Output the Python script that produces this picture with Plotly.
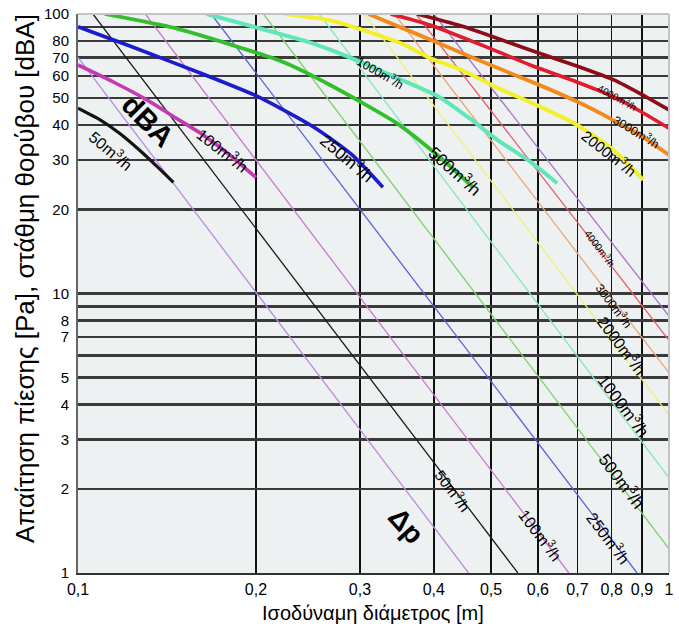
import math
import plotly.graph_objects as go

# ---------------- data ----------------
# Pressure-drop lines (straight in log-log): start / end points
dp_flows = ["25", "50", "100", "250", "500", "1000", "2000", "3000", "4000", "5000"]
dp_x_start = [0.100, 0.106, 0.130, 0.168, 0.206, 0.256, 0.305, 0.343, 0.373, 0.400]
dp_y_start = [70, 100, 100, 100, 100, 100, 100, 100, 100, 100]
dp_x_end = [0.458, 0.555, 0.677, 0.883, 1.0, 1.0, 1.0, 1.0, 1.0, 1.0]
dp_y_end = [1, 1, 1, 1, 1.22, 2.19, 3.67, 5.2, 6.8, 8.3]

# Noise level curves (dBA)
dba_50_x = [0.100, 0.109, 0.118, 0.127, 0.136, 0.145]
dba_50_y = [46, 41.8, 37.2, 32.6, 28.5, 25]
dba_100_x = [0.100, 0.115, 0.131, 0.145, 0.161, 0.180, 0.200]
dba_100_y = [65.7, 57, 49.2, 43, 37.5, 31.5, 26]
dba_250_x = [0.100, 0.124, 0.161, 0.200, 0.250, 0.290, 0.328]
dba_250_y = [90, 76, 61.5, 51, 39.5, 31.5, 24]
dba_500_x = [0.111, 0.146, 0.189, 0.220, 0.267, 0.346, 0.409, 0.466]
dba_500_y = [100, 89, 75.6, 68, 55.7, 40.7, 30.8, 24]
dba_1000_x = [0.165, 0.245, 0.267, 0.300, 0.350, 0.409, 0.460, 0.513, 0.580, 0.647]
dba_1000_y = [100, 79.5, 74.5, 67.5, 58.5, 50.4, 42.3, 35.4, 29.8, 24.8]
dba_2000_x = [0.224, 0.267, 0.312, 0.355, 0.394, 0.450, 0.513, 0.600, 0.699, 0.800, 0.904]
dba_2000_y = [100, 95, 86, 78, 69.5, 62.5, 54.4, 47, 40.1, 33, 25.5]
dba_3000_x = [0.310, 0.3835, 0.450, 0.500, 0.600, 0.700, 0.800, 0.900, 1.000]
dba_3000_y = [100, 83, 72, 65.5, 56, 48.5, 42, 36.5, 31.3]
dba_4000_x = [0.338, 0.394, 0.500, 0.582, 0.700, 0.808, 0.900, 1.000]
dba_4000_y = [100, 91.3, 75, 65.7, 57, 50.4, 44.5, 39]
dba_5000_x = [0.375, 0.450, 0.582, 0.700, 0.808, 0.900, 1.000]
dba_5000_y = [100, 90, 74.3, 65, 58, 51.5, 45.4]

x_tick_vals = [0.1, 0.2, 0.3, 0.4, 0.5, 0.6, 0.7, 0.8, 0.9, 1.0]
x_tick_text = ["0,1", "0,2", "0,3", "0,4", "0,5", "0,6", "0,7", "0,8", "0,9", "1"]
y_tick_vals = [1, 2, 3, 4, 5, 6, 7, 8, 9, 10, 20, 30, 40, 50, 60, 70, 80, 90, 100]
y_tick_text = ["1", "2", "3", "4", "5", "", "7", "8", "", "10", "20", "30", "40", "50",
               "60", "70", "80", "", "100"]

x_title = "Ισοδύναμη διάμετρος [m]"
y_title = "Απαίτηση πίεσης [Pa], στάθμη θορύβου [dBA]"

# ---------------- styles ----------------
dp_colors = ["#b88ae0", "#1a1a1a", "#cc78cc", "#5a62dc", "#7fcf6a", "#86e6c4",
             "#efef7a", "#eba677", "#e4606a", "#a872c8"]
dba_series = [
    (dba_50_x, dba_50_y, "#141414", 3.2),
    (dba_100_x, dba_100_y, "#c23ab4", 3.6),
    (dba_250_x, dba_250_y, "#1c1ccc", 3.6),
    (dba_500_x, dba_500_y, "#33bf2c", 3.8),
    (dba_1000_x, dba_1000_y, "#60e6b8", 4.0),
    (dba_2000_x, dba_2000_y, "#f2f02c", 4.0),
    (dba_3000_x, dba_3000_y, "#f28a1e", 3.8),
    (dba_4000_x, dba_4000_y, "#e21c2c", 3.6),
    (dba_5000_x, dba_5000_y, "#8c0c18", 3.6),
]

fig = go.Figure()

for i in range(len(dp_flows)):
    fig.add_trace(go.Scatter(
        x=[dp_x_start[i], dp_x_end[i]], y=[dp_y_start[i], dp_y_end[i]],
        mode="lines", line=dict(color=dp_colors[i], width=1.3),
        name="Δp " + dp_flows[i], hoverinfo="skip"))

for xs, ys, col, w in dba_series:
    fig.add_trace(go.Scatter(x=xs, y=ys, mode="lines",
                             line=dict(color=col, width=w, shape="spline", smoothing=0.6),
                             hoverinfo="skip"))

FONT = "Liberation Sans, Arial, sans-serif"

# figure size and plot area in page pixels (body margin removed below)
W, H = 679, 637
L, R, T, B = 78, 669, 14, 573


def px_to_data(px, py):
    # page pixel position -> log10 data coordinates for annotations
    return -1 + (px - L) / (R - L), 2 - 2 * (py - T) / (B - T)


def px_to_paper(px, py):
    return (px - L) / (R - L), (B - py) / (B - T)


labels = [
    # text, px, py, angle, size, bold
    ("dBA", 148, 121, 45, 29, True),
    ("50m<sup>3</sup>/h", 111, 150, 40, 16, False),
    ("100m<sup>3</sup>/h", 223, 150, 38, 16, False),
    ("250m<sup>3</sup>/h", 347, 157, 40, 17, False),
    ("500m<sup>3</sup>/h", 455, 170, 42, 17, False),
    ("1000m<sup>3</sup>/h", 380, 72, 30, 12, False),
    ("2000m<sup>3</sup>/h", 610, 152, 38, 15, False),
    ("3000m<sup>3</sup>/h", 636, 131, 31, 12, False),
    ("4000m<sup>3</sup>/h", 617, 97, 29, 10, False),
    ("Δp", 406, 525, 48, 28, True),
    ("50m<sup>3</sup>/h", 454, 490, 53, 15, False),
    ("100m<sup>3</sup>/h", 541, 535, 53, 16, False),
    ("250m<sup>3</sup>/h", 609, 538, 53, 16, False),
    ("500m<sup>3</sup>/h", 622, 480, 53, 17, False),
    ("1000m<sup>3</sup>/h", 624, 405, 53, 17, False),
    ("2000m<sup>3</sup>/h", 622, 345, 53, 16, False),
    ("3000m<sup>3</sup>/h", 614, 305, 53, 12, False),
    ("4000m<sup>3</sup>/h", 600, 248, 53, 10, False),
]
annotations = []
for t, px, py, ang, sz, bold in labels:
    ax, ay = px_to_data(px, py)
    annotations.append(dict(
        x=ax, y=ay, xref="x", yref="y", text=("<b>%s</b>" % t) if bold else t,
        showarrow=False, textangle=ang, xanchor="center", yanchor="middle",
        font=dict(family=FONT, size=sz, color="black")))

# axis titles
tx, ty = px_to_paper(373, 613)
annotations.append(dict(x=tx, y=ty, xref="paper", yref="paper", text=x_title,
                        showarrow=False, xanchor="center", yanchor="middle",
                        font=dict(family=FONT, size=20, color="black")))
tx, ty = px_to_paper(25, 279)
annotations.append(dict(x=tx, y=ty, xref="paper", yref="paper", text=y_title,
                        showarrow=False, textangle=-90, xanchor="center", yanchor="middle",
                        font=dict(family=FONT, size=26, color="black")))

fig.update_layout(
    width=W, height=H,
    margin=dict(l=L, r=W - R, t=T, b=H - B, autoexpand=False),
    paper_bgcolor="white", plot_bgcolor="#eef1f2",
    showlegend=False,
    annotations=annotations,
    shapes=[
        dict(type="line", xref="paper", yref="paper", x0=0, x1=1, y0=1, y1=1,
             line=dict(color="#c4c4c4", width=2)),
        dict(type="line", xref="paper", yref="paper", x0=1, x1=1, y0=0, y1=1,
             line=dict(color="#c4c4c4", width=2)),
    ],
)
fig.update_xaxes(
    type="log", range=[-1, 0], tickvals=x_tick_vals, ticktext=x_tick_text,
    showgrid=True, gridcolor="#111111", gridwidth=1.4,
    showline=True, linecolor="#333333", linewidth=2,
    ticks="outside", ticklen=1, tickcolor="rgba(0,0,0,0)",
    tickfont=dict(family=FONT, size=16, color="black"),
    ticklabeloverflow="allow",
    automargin=False, zeroline=False,
)
fig.update_yaxes(
    type="log", range=[0, 2], tickvals=y_tick_vals, ticktext=y_tick_text,
    showgrid=True, gridcolor="#3a3a3a", gridwidth=2.5,
    showline=True, linecolor="#666666", linewidth=2,
    ticks="outside", ticklen=4, tickcolor="rgba(0,0,0,0)",
    tickfont=dict(family=FONT, size=15, color="black"),
    ticklabeloverflow="allow",
    automargin=False, zeroline=False,
)

fig.write_html("out.html",
               config={"displayModeBar": False, "staticPlot": True},
               post_script="document.body.style.margin='0';document.body.style.overflow='hidden';")
